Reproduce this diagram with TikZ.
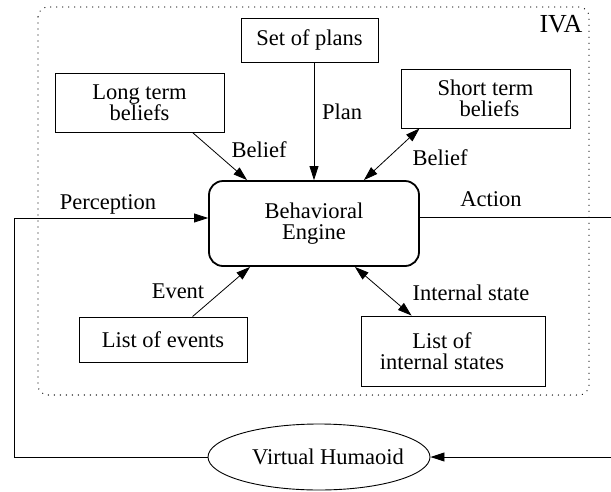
\documentclass[tikz,border=0pt]{standalone}
\usepackage{fontspec}
\setmainfont{Liberation Serif}
\usetikzlibrary{shapes.geometric,arrows.meta}
\begin{document}
\begin{tikzpicture}[x=1pt,y=-1pt,
  every node/.style={font=\fontsize{22.5}{21}\selectfont},
  box/.style={draw, line width=0.9pt, rectangle, align=center, inner sep=0pt},
  lbl/.style={inner sep=0pt},
  conn/.style={line width=0.8pt},
  tip/.style={-{Triangle[length=14pt,width=9pt]}},
  dtip/.style={{Triangle[length=14pt,width=9pt]}-{Triangle[length=14pt,width=9pt]}},
  frame/.style={line width=1.3pt, dash pattern=on 0pt off 6pt, line cap=round, rounded corners=10pt}
]
\useasboundingbox (0,0) rectangle (611,491);
% IVA frame
\draw[frame] (38,7) rectangle (589,395);
\node[lbl, font=\fontsize{26}{26}\selectfont] (iva) at (561,24) {IVA};

% nodes
\node[box, minimum width=137pt, minimum height=44pt] (sop) at (309.5,40) {Set of plans};
\node[box, minimum width=169pt, minimum height=59pt] (ltb) at (139.5,102.5) {Long term\\beliefs};
\node[box, minimum width=169pt, minimum height=59pt] (stb) at (485.5,98.5) {Short term\\\hspace*{8pt}beliefs};
\node[box, line width=1.8pt, rounded corners=14pt, minimum width=210pt, minimum height=85pt] (be) at (314,223.5) {Behavioral\\Engine};
\node[box, minimum width=168pt, minimum height=45pt] (loe) at (163,339.5) {List of events};
\node[box, minimum width=184pt, minimum height=70pt] (lis) at (453,351) {List of\hspace*{22pt}\\internal states\hspace*{22pt}};
\node[draw, ellipse, line width=0.9pt, inner sep=0pt, minimum width=222pt, minimum height=66pt] (vh) at (319,457) {\makebox[0pt]{\hspace*{18pt}Virtual Humaoid}};

% loop coordinates
\coordinate (pl) at (14,457);
\coordinate (pu) at (14,218);
\coordinate (ar) at (611,217);
\coordinate (br) at (611,457);

% connectors
\draw[conn, tip] ([xshift=-32pt]ltb.south east) -- ([xshift=39pt]be.north west);
\draw[conn, tip] (sop.south -| be.north) -- (be.north);
\draw[conn, dtip] ([xshift=19pt]stb.south west) -- ([xshift=-56pt]be.north east);
\draw[conn, tip] ([xshift=114pt]loe.north west) -- ([xshift=42pt]be.south west);
\draw[conn, dtip] ([xshift=-65pt]be.south east) -- ([xshift=51pt]lis.north west);
\draw[conn, tip] (vh.west) -- (pl) -- (pu) -- (pu -| be.west);
\draw[conn] (ar -| be.east) -- (ar);
\draw[conn, tip] (br) -- (vh.east);

% labels
\node[lbl] (lplan) at (342,112) {Plan};
\node[lbl] (lb1) at (259,150) {Belief};
\node[lbl] (lb2) at (440,158) {Belief};
\node[lbl] (lperc) at (108,204) {Perception};
\node[lbl] (lact) at (491,199) {Action};
\node[lbl] (lev) at (178,291) {Event};
\node[lbl] (lis2) at (471,293) {Internal state};
\end{tikzpicture}
\end{document}
